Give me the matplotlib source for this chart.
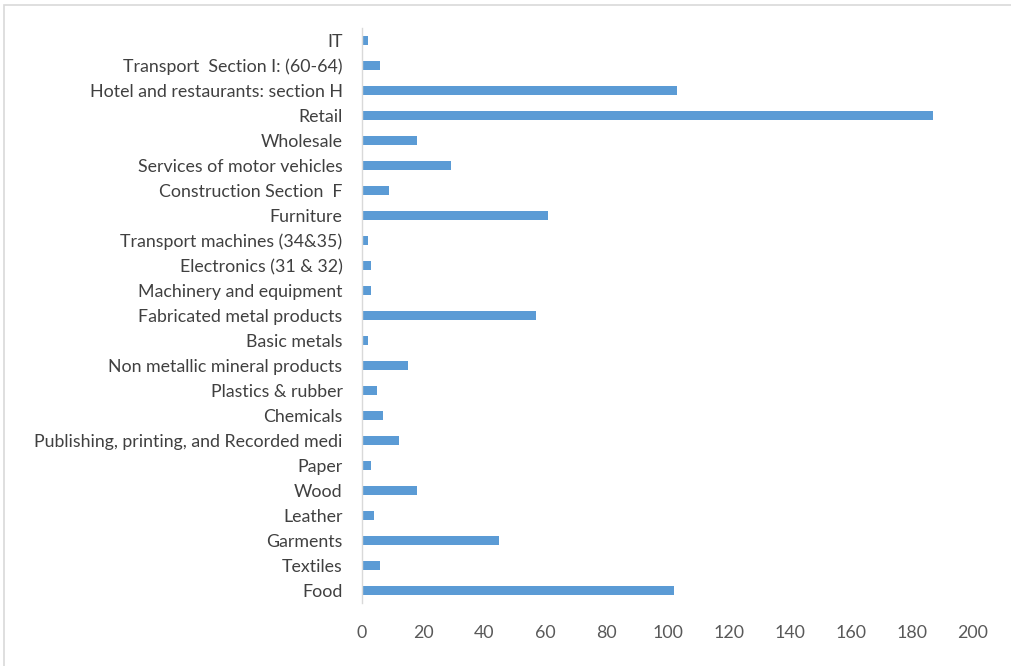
import matplotlib.pyplot as plt
from matplotlib.patches import Rectangle

# categories listed bottom to top, as drawn
categories = [
    "Food", "Textiles", "Garments", "Leather", "Wood", "Paper",
    "Publishing, printing, and Recorded medi", "Chemicals", "Plastics & rubber",
    "Non metallic mineral products", "Basic metals", "Fabricated metal products",
    "Machinery and equipment", "Electronics (31 & 32)", "Transport machines (34&35)",
    "Furniture", "Construction Section  F", "Services of motor vehicles",
    "Wholesale", "Retail", "Hotel and restaurants: section H",
    "Transport  Section I: (60-64)", "IT",
]
values = [102, 6, 45, 4, 18, 3, 12, 7, 5, 15, 2, 57, 3, 3, 2,
          61, 9, 29, 18, 187, 103, 6, 2]
xticks = list(range(0, 201, 20))

plt.rcParams['font.family'] = ['Lato', 'DejaVu Sans']

fig = plt.figure(figsize=(10.11, 6.66), dpi=100)
ax = fig.add_axes([362 / 1011, 1 - 603 / 666, (973 - 362) / 1011, (603 - 28) / 666])

ax.barh(range(len(categories)), values, height=0.38, color="#5b9bd5")
ax.set_ylim(-0.5, len(categories) - 0.5)
ax.set_xlim(0, 200)
ax.set_xticks(xticks)
ax.set_yticks(range(len(categories)))
ax.set_yticklabels(categories)

for s in ["top", "right", "bottom"]:
    ax.spines[s].set_visible(False)
ax.spines["left"].set_color("#d9d9d9")
ax.spines["left"].set_linewidth(1)
ax.tick_params(axis="y", length=0, pad=14, labelsize=12.8, labelcolor="#404040")
ax.tick_params(axis="x", length=0, pad=16, labelsize=12.8, labelcolor="#595959")

# outer chart border
fig.patches.append(Rectangle((4 / 1011, -0.01), 1.02, 1 - 5 / 666 + 0.01,
                             transform=fig.transFigure, fill=False,
                             edgecolor="#d9d9d9", linewidth=1.2))

fig.savefig("out.png", dpi=100)
